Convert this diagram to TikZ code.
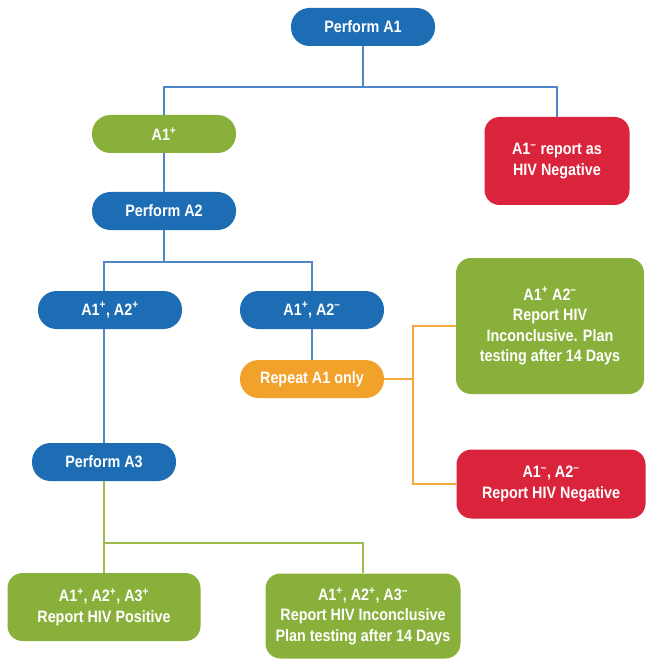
\documentclass[tikz,border=0pt]{standalone}
\usepackage{fontspec}
\newfontfamily\narrowbold[FakeStretch=0.87]{Liberation Sans Bold}
\definecolor{cblue}{HTML}{1C6DB4}
\definecolor{cgreen}{HTML}{8AB03C}
\definecolor{cred}{HTML}{D9243C}
\definecolor{corange}{HTML}{F2A12A}
\definecolor{lblue}{HTML}{4F86C6}
\definecolor{lgreen}{HTML}{9CBD4E}
\definecolor{lorange}{HTML}{F4A93A}
\newcommand{\spos}{\textsuperscript{+}}
\newcommand{\sneg}{\textsuperscript{\textendash}}
\tikzset{
  pill/.style={rounded corners=18.5pt, minimum width=144pt, minimum height=38pt, text=white, inner sep=0pt, font=\narrowbold\fontsize{16.5}{20}\selectfont},
  bbox/.style={rounded corners=15pt, text=white, inner sep=0pt, align=center, font=\narrowbold\fontsize{16.5}{20.5}\selectfont},
  bl/.style={draw=lblue, line width=1.2pt},
  gl/.style={draw=lgreen, line width=1.2pt},
  ol/.style={draw=lorange, line width=1.2pt},
}
\begin{document}
\begin{tikzpicture}[x=1pt,y=-1pt]
\useasboundingbox (0,0) rectangle (647,660);
% nodes
\node[pill, fill=cblue] (pa1) at (363,27) {Perform A1};
\node[pill, fill=cgreen] (a1p) at (164,134) {A1\spos};
\node[bbox, fill=cred, minimum width=145pt, minimum height=88pt] (a1n) at (557,161) {A1\sneg{} report as\\HIV Negative};
\node[pill, fill=cblue] (pa2) at (164,211) {Perform A2};
\node[pill, fill=cblue] (a12p) at (110,310) {A1\spos, A2\spos};
\node[pill, fill=cblue] (a12n) at (312,310) {A1\spos, A2\sneg};
\node[pill, fill=corange] (rep) at (312,379) {Repeat A1 only};
\node[bbox, fill=cgreen, minimum width=188pt, minimum height=136pt] (gbox) at (550,326) {A1\spos{} A2\sneg\\Report HIV\\Inconclusive. Plan\\testing after 14 Days};
\node[bbox, fill=cred, minimum width=189pt, minimum height=69pt] (rbox) at (551,484) {A1\sneg, A2\sneg\\Report HIV Negative};
\node[pill, fill=cblue] (pa3) at (104,462) {Perform A3};
\node[bbox, fill=cgreen, minimum width=193pt, minimum height=68pt] (bl1) at (104,607) {A1\spos, A2\spos, A3\spos\\Report HIV Positive};
\node[bbox, fill=cgreen, minimum width=195pt, minimum height=85pt] (br1) at (363,616) {A1\spos, A2\spos, A3\sneg\\Report HIV Inconclusive\\Plan testing after 14 Days};
% junctions
\coordinate (j1) at (363,87);
\coordinate (j2) at (164,262);
\coordinate (j3) at (413,379);
\coordinate (j4) at (104,543);
% connectors
\draw[bl] (pa1) -- (j1);
\draw[bl] (a1p) |- (j1) -| (a1n);
\draw[bl] (a1p) -- (pa2);
\draw[bl] (pa2) -- (j2);
\draw[bl] (pa3 |- a12p.north) |- (j2) -| (a12n);
\draw[bl] (pa3 |- a12p.south) -- (pa3);
\draw[bl] (a12n) -- (rep);
\draw[ol] (rep) -- (j3);
\draw[ol] (gbox) -| (j3) |- (rbox);
\draw[gl] (pa3) -- (bl1);
\draw[gl] (j4) -| (br1);
\end{tikzpicture}
\end{document}
